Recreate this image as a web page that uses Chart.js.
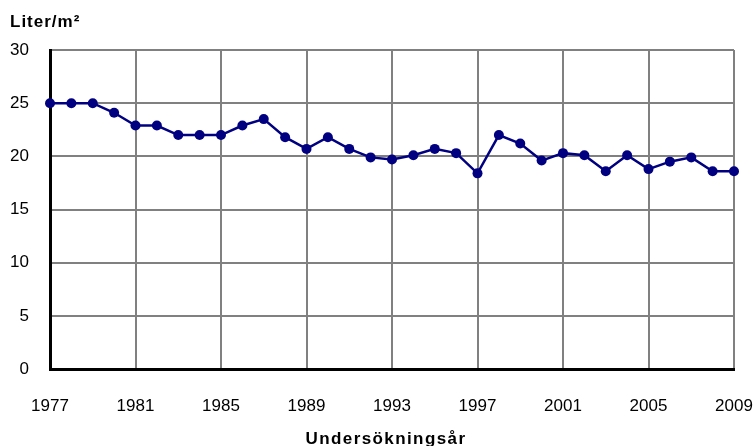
<!DOCTYPE html>
<html>
<head>
<meta charset="utf-8">
<script src="https://cdn.jsdelivr.net/npm/chart.js@4/dist/chart.umd.min.js"></script>
<style>
  html, body { margin: 0; padding: 0; background: #ffffff; }
  #wrap { width: 756px; height: 446px; position: relative; }
</style>
</head>
<body>
<div id="wrap"><canvas id="c" width="756" height="446"></canvas></div>
<script>
const years = [1977, 1978, 1979, 1980, 1981, 1982, 1983, 1984, 1985, 1986, 1987,
               1988, 1989, 1990, 1991, 1992, 1993, 1994, 1995, 1996, 1997, 1998,
               1999, 2000, 2001, 2002, 2003, 2004, 2005, 2006, 2007, 2008, 2009];
const values = [25.0, 25.0, 25.0, 24.1, 22.9, 22.9, 22.0, 22.0, 22.0, 22.9, 23.5,
                21.8, 20.7, 21.8, 20.7, 19.9, 19.7, 20.1, 20.7, 20.3, 18.4, 22.0,
                21.2, 19.6, 20.3, 20.1, 18.6, 20.1, 18.8, 19.5, 19.9, 18.6, 18.6];
const xTickYears = [1977, 1981, 1985, 1989, 1993, 1997, 2001, 2005, 2009];
const yTickValues = [0, 5, 10, 15, 20, 25, 30];
const yTitle = 'Liter/m\u00B2';
const xTitle = 'Undersökningsår';

const FONT = '"Liberation Sans", Arial, sans-serif';

const titlesPlugin = {
  id: 'titlesPlugin',
  afterDraw(chart) {
    const ctx = chart.ctx;
    ctx.save();
    ctx.fillStyle = '#000000';
    ctx.font = 'bold 17px ' + FONT;
    ctx.textBaseline = 'alphabetic';
    try { ctx.letterSpacing = '1px'; } catch (e) {}
    ctx.textAlign = 'left';
    ctx.fillText(yTitle, 10, 27);
    try { ctx.letterSpacing = '1.4px'; } catch (e) {}
    ctx.textAlign = 'center';
    ctx.fillText(xTitle, 386, 444);
    ctx.restore();
  }
};

new Chart(document.getElementById('c'), {
  type: 'line',
  data: {
    datasets: [{
      data: years.map((y, i) => ({ x: y, y: values[i] })),
      borderColor: '#000080',
      backgroundColor: '#000080',
      borderWidth: 2.5,
      pointRadius: 5,
      pointHoverRadius: 5,
      pointBorderWidth: 0,
      pointBackgroundColor: '#000080',
      tension: 0,
      clip: false
    }]
  },
  options: {
    responsive: false,
    animation: false,
    devicePixelRatio: 1,
    layout: { padding: { left: 0, top: 50, right: 0, bottom: 0 } },
    plugins: {
      legend: { display: false },
      tooltip: { enabled: false },
      title: { display: false }
    },
    scales: {
      x: {
        type: 'linear',
        min: 1977,
        max: 2009,
        afterFit(s) { s.height = 77; s.paddingLeft = 0; s.paddingRight = 22; },
        afterBuildTicks(s) { s.ticks = xTickYears.map(v => ({ value: v })); },
        ticks: {
          callback: v => String(v),
          color: '#000000',
          font: { family: FONT, size: 17 },
          padding: 27,
          maxRotation: 0,
          autoSkip: false
        },
        grid: { color: '#808080', lineWidth: 2, drawTicks: false },
        border: { color: '#000000', width: 3 }
      },
      y: {
        min: 0,
        max: 30,
        afterFit(s) { s.width = 50; s.paddingTop = 0; s.paddingBottom = 0; },
        afterBuildTicks(s) { s.ticks = yTickValues.map(v => ({ value: v })); },
        ticks: {
          callback: v => String(v),
          color: '#000000',
          font: { family: FONT, size: 17 },
          padding: 21
        },
        grid: { color: '#808080', lineWidth: 2, drawTicks: false },
        border: { color: '#000000', width: 3 }
      }
    }
  },
  plugins: [titlesPlugin]
});
</script>
</body>
</html>
